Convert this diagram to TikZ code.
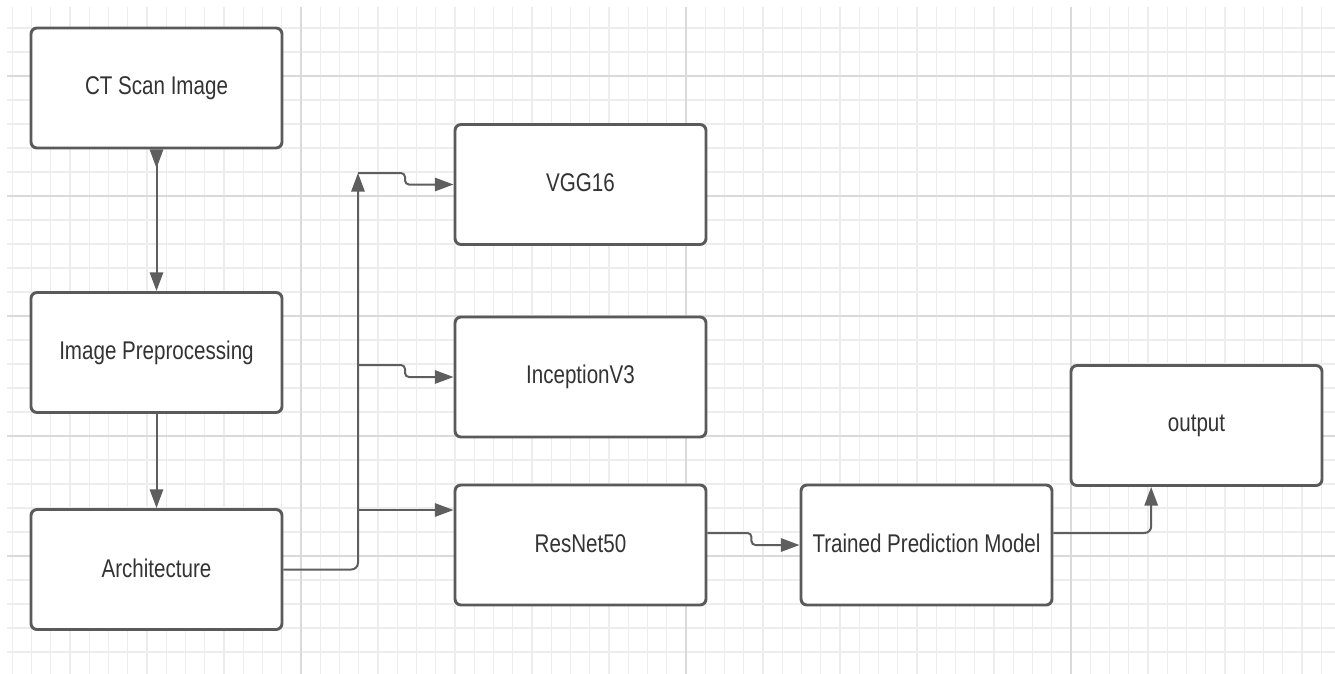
\documentclass[tikz,border=0pt]{standalone}
\usepackage{fontspec}
\setmainfont{Liberation Sans}
\usetikzlibrary{arrows.meta,calc}
\definecolor{boxc}{HTML}{5A5A5A}
\definecolor{linec}{HTML}{5E5E5E}
\definecolor{txtc}{HTML}{333333}
\definecolor{gridminor}{HTML}{EDEDED}
\definecolor{gridmajor}{HTML}{DADADA}
\newcommand\boxlabel[1]{\raisebox{2.5pt}{\scalebox{0.98}[1.22]{#1}}}
\tikzset{
  stepbox/.style={draw=boxc, line width=2.2pt, rounded corners=4.5pt, fill=white,
    minimum width=188.25pt, minimum height=90pt, inner sep=0pt, text=txtc,
    font=\fontsize{15.75pt}{18pt}\selectfont},
  conn/.style={draw=linec, line width=1.5pt, -{Triangle[length=14pt,width=10pt]}},
  gminor/.style={draw=gridminor, line width=0.8pt},
  gmajor/.style={draw=gridmajor, line width=1.2pt},
}
\begin{document}
\begin{tikzpicture}[x=0.75pt,y=-0.75pt]
\useasboundingbox (0,0) rectangle (1335,674);
\fill[white] (0,0) rectangle (1335,674);
% grid
\foreach \k in {0,...,69}{
  \pgfmathsetmacro\gx{12.25+19.25*\k}
  \draw[gminor] (\gx,7) -- (\gx,674);
}
\foreach \k in {1,...,27}{
  \pgfmathsetmacro\gy{4+24*\k}
  \draw[gminor] (7,\gy) -- (1335,\gy);
}
\foreach \gy in {76,196,316,436,556}{
  \draw[gmajor] (7,\gy) -- (1335,\gy);
}
\foreach \gx in {301,686,1071}{
  \draw[gmajor] (\gx,7) -- (\gx,674);
}
% nodes
\node[stepbox] (ct)   at (156.5,88)   {\boxlabel{CT Scan Image}};
\node[stepbox] (pre)  at (156.5,352.5){\boxlabel{Image Preprocessing}};
\node[stepbox] (arch) at (156.5,569.5){\boxlabel{Architecture}};
\node[stepbox] (vgg)  at (580.5,184.5){\boxlabel{VGG16}};
\node[stepbox] (inc)  at (580.5,377)  {\boxlabel{InceptionV3}};
\node[stepbox] (res)  at (580.5,545)  {\boxlabel{ResNet50}};
\node[stepbox] (tpm)  at (926.5,545)  {\boxlabel{Trained Prediction Model}};
\node[stepbox] (out)  at (1196.5,425.5){\boxlabel{output}};
% bus coordinates
\coordinate (bustop) at (358,173);
\coordinate (binc) at (358,365);
\coordinate (bres) at (358,510);
% connectors
\draw[conn, {Triangle[reversed,length=14pt,width=10pt]}-{Triangle[length=14pt,width=10pt]}] (ct) -- (pre);
\draw[conn] (pre) -- (arch);
\draw[conn, rounded corners=5pt] (arch.east) -| (bustop);
\draw[conn, rounded corners=3pt] (bustop) -- ++(47,0) -- ++(0,11.5) -- (vgg.west);
\draw[conn, rounded corners=3pt] (binc) -- ++(47,0) -- ++(0,12) -- (inc.west);
\draw[conn] (bres) -- (res.west |- bres);
\draw[conn, rounded corners=3pt] ([yshift=9pt]res.east) -- ++(44,0) -- ++(0,12) -- (tpm.west);
\draw[conn, rounded corners=5pt] ([yshift=9pt]tpm.east) -| ([xshift=-34pt]out.south);
\end{tikzpicture}
\end{document}
